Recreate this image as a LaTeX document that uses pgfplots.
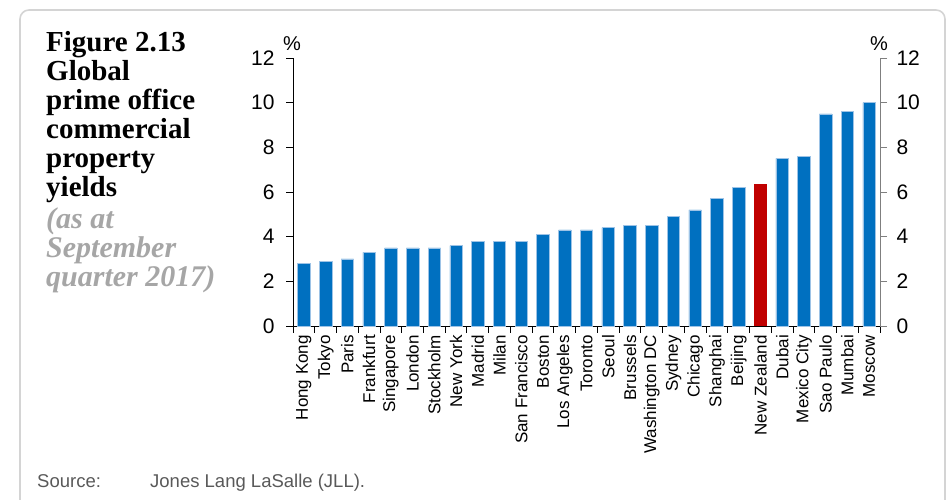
\documentclass[border=0pt]{standalone}
\usepackage{fontspec}
\setmainfont{Liberation Sans}
\newfontfamily\titlefont{Liberation Serif}
\usepackage{pgfplots}
\pgfplotsset{compat=1.18}
\definecolor{barblue}{HTML}{0070C0}
\definecolor{baredge}{HTML}{9DC3E6}
\definecolor{barred}{HTML}{C00000}
\definecolor{subgrey}{HTML}{A6A6A6}
\definecolor{srcgrey}{HTML}{595959}
\definecolor{framegrey}{HTML}{D4D4D4}
\definecolor{raxis}{HTML}{7F7F7F}

\begin{document}
\begin{tikzpicture}
\path[use as bounding box] (0pt,0pt) rectangle (950pt,500pt);
\draw[framegrey, line width=1.6pt, rounded corners=9pt] (20pt,-30pt) rectangle (945pt,490pt);
% title
\begin{scope}[every node/.style={anchor=base west, inner sep=0pt, font=\titlefont\bfseries\fontsize{29}{29}\selectfont}]
\node at (46pt,448pt) {Figure 2.13};
\node at (46pt,419pt) {Global};
\node at (46pt,390pt) {prime office};
\node at (46pt,361pt) {commercial};
\node at (46pt,332pt) {property};
\node at (46pt,303pt) {yields};
\node[text=subgrey, font=\titlefont\bfseries\itshape\fontsize{30}{29}\selectfont] at (46pt,271pt) {(as at};
\node[text=subgrey, font=\titlefont\bfseries\itshape\fontsize{30}{29}\selectfont] at (46pt,242pt) {September};
\node[text=subgrey, font=\titlefont\bfseries\itshape\fontsize{30}{29}\selectfont] at (46pt,213pt) {quarter 2017)};
\end{scope}
% source
\node[anchor=base west, inner sep=0pt, text=srcgrey, font=\fontsize{18.5}{20}\selectfont] at (37pt,12pt) {Source:};
\node[anchor=base west, inner sep=0pt, text=srcgrey, font=\fontsize{18.5}{20}\selectfont] at (150pt,12pt) {Jones Lang LaSalle (JLL).};

\begin{axis}[
  at={(293pt,174pt)}, anchor=south west,
  scale only axis, width=587pt, height=268pt,
  xmin=-0.5, xmax=26.5, ymin=0, ymax=12,
  axis x line*=bottom, axis y line*=left,
  axis line style={-, black, line width=0.9pt},
  ytick={0,2,...,12},
  tick align=outside,
  major tick length=7pt,
  minor tick length=7pt,
  tick style={black, line width=0.9pt},
  xtick={0,...,26},
  major x tick style={draw=none},
  minor xtick={-0.5,0.5,...,26.5},
  xticklabels={Hong Kong,Tokyo,Paris,Frankfurt,Singapore,London,Stockholm,New York,Madrid,Milan,San Francisco,Boston,Los Angeles,Toronto,Seoul,Brussels,Washington DC,Sydney,Chicago,Shanghai,Beijing,New Zealand,Dubai,Mexico City,Sao Paulo,Mumbai,Moscow},
  x tick label style={rotate=90, anchor=east, font=\fontsize{17}{18}\selectfont, inner sep=2pt},
  y tick label style={font=\fontsize{21}{22}\selectfont, xshift=-8pt},
  /pgf/number format/assume math mode=true,
  clip=false,
]
\addplot[ybar, bar shift=0pt, bar width=12.5pt, fill=barblue, draw=baredge, line width=0.6pt] coordinates {
(0,2.8) (1,2.9) (2,3.0) (3,3.3) (4,3.5) (5,3.5) (6,3.5) (7,3.6) (8,3.8) (9,3.8) (10,3.8) (11,4.1) (12,4.3) (13,4.3) (14,4.4) (15,4.5) (16,4.5) (17,4.9) (18,5.2) (19,5.7) (20,6.2) (22,7.5) (23,7.6) (24,9.5) (25,9.6) (26,10.0)
};
\addplot[ybar, bar shift=0pt, bar width=12.5pt, fill=barred, draw=none] coordinates {(21,6.37)};
\end{axis}

\begin{axis}[
  at={(293pt,174pt)}, anchor=south west,
  scale only axis, width=587pt, height=268pt,
  xmin=-0.5, xmax=26.5, ymin=0, ymax=12,
  axis x line=none, axis y line*=right,
  axis line style={-, raxis, line width=0.9pt},
  ytick={0,2,...,12},
  tick align=outside,
  major tick length=7pt,
  tick style={raxis, line width=0.9pt},
  y tick label style={font=\fontsize{21}{22}\selectfont, xshift=6pt},
  /pgf/number format/assume math mode=true,
]
\addplot[draw=none] coordinates {(0,0)};
\end{axis}
\node[font=\fontsize{20}{20}\selectfont] at (292pt,456pt) {\%};
\node[font=\fontsize{20}{20}\selectfont] at (879pt,456pt) {\%};
\end{tikzpicture}
\end{document}
